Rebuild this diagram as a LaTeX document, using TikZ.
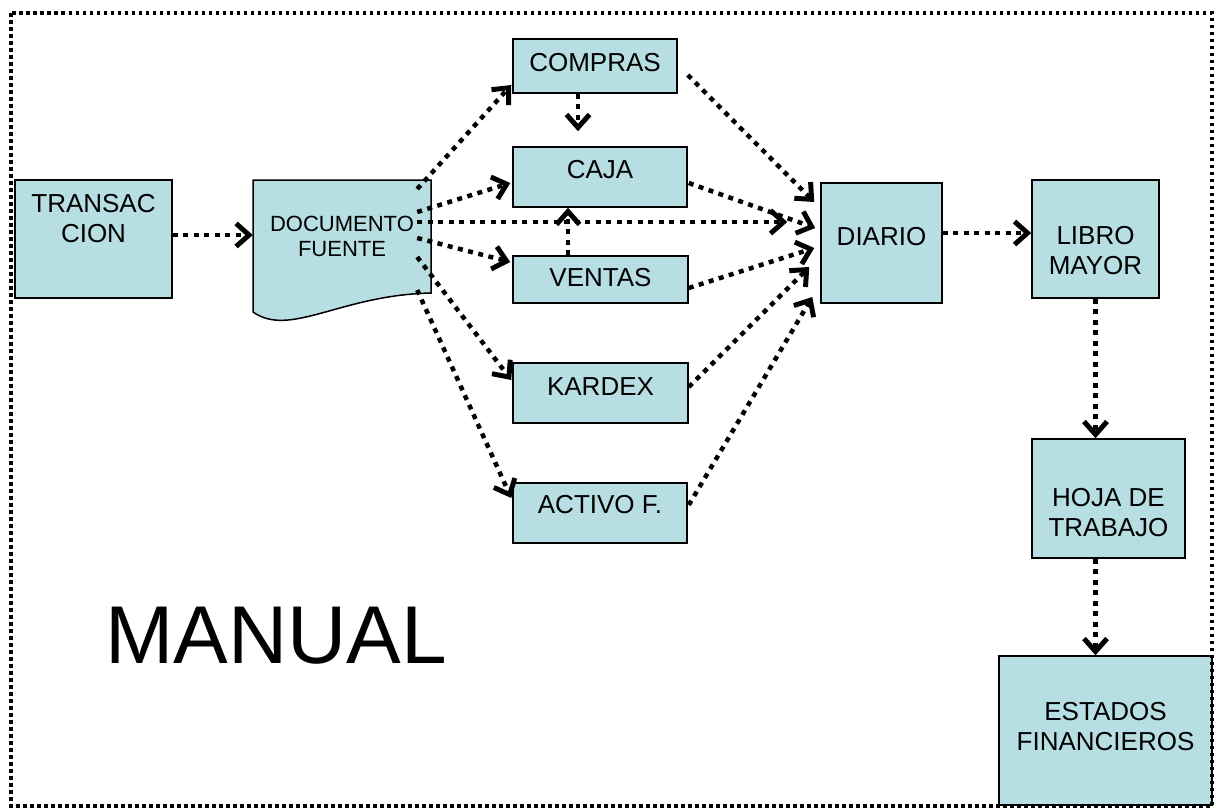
\documentclass[tikz,border=0pt]{standalone}
\usepackage{fontspec}
\setmainfont{Liberation Sans}
\usetikzlibrary{arrows.meta}
\definecolor{boxfill}{HTML}{B7DEE3}

\begin{document}
\begin{tikzpicture}[x=1pt, y=-1pt,
	box/.style={draw, line width=1.5pt, fill=boxfill, inner sep=0pt},
	boxtext/.style={align=center, inner sep=0pt, font=\fontsize{26}{30}\selectfont},
	flow/.style={line width=4.5pt, dash pattern=on 5pt off 5.5pt,
		-{Straight Barb[length=13pt, width=23pt, line width=0pt 1.1]}},
	outerframe/.style={line width=3.2pt, dash pattern=on 3.5pt off 3.5pt}]
	\useasboundingbox (0,0) rectangle (1214,809);

	% documento fuente (hoja con borde ondulado)
	\draw[line width=1.5pt, fill=boxfill] (253,312) -- (253,180) -- (431,180) -- (431,293)
		.. controls (340,295) and (290,338) .. (253,312) -- cycle;
	\node[align=center, inner sep=0pt, minimum width=178pt, minimum height=113pt,
		font=\fontsize{22}{25}\selectfont] (doc) at (342,236.5) {DOCUMENTO\\FUENTE};

	\node[box, minimum width=157pt, minimum height=118pt,
		label={[boxtext, yshift=20.5pt]center:{TRANSAC\\CION}}] (trans) at (93.5,239) {};
	\node[box, minimum width=164pt, minimum height=54pt,
		label={[boxtext, yshift=3pt]center:COMPRAS}] (compras) at (595,66) {};
	\node[box, minimum width=174pt, minimum height=60pt,
		label={[boxtext, yshift=7pt]center:CAJA}] (caja) at (600,177) {};
	\node[box, minimum width=175pt, minimum height=47pt,
		label={[boxtext, yshift=1.5pt]center:VENTAS}] (ventas) at (600.5,279.5) {};
	\node[box, minimum width=175pt, minimum height=60pt,
		label={[boxtext, yshift=6pt]center:KARDEX}] (kardex) at (600.5,393) {};
	\node[box, minimum width=174pt, minimum height=60pt,
		label={[boxtext, yshift=8pt]center:ACTIVO F.}] (activo) at (600,513) {};
	\node[box, minimum width=121pt, minimum height=120pt,
		label={[boxtext, yshift=6pt]center:DIARIO}] (diario) at (881.5,243) {};
	\node[box, minimum width=127pt, minimum height=118pt,
		label={[boxtext, yshift=-12pt]center:{LIBRO\\MAYOR}}] (libro) at (1095.5,239) {};
	\node[box, minimum width=153pt, minimum height=119pt,
		label={[boxtext, yshift=-14pt]center:{HOJA DE\\TRABAJO}}] (hoja) at (1108.5,498.5) {};
	\node[box, minimum width=213pt, minimum height=149pt,
		label={[boxtext, yshift=3.5pt]center:{ESTADOS\\FINANCIEROS}}] (estados) at (1105.5,730.5) {};

	\node[inner sep=0pt, font=\fontsize{82}{90}\selectfont] (manual) at (276,636) {MANUAL};

	% flujo
	\draw[flow] ([yshift=4pt]trans.east) -- ([yshift=4pt]trans.east -| doc.west);
	\draw[flow] ([shift={(-14,-47.5)}]doc.east) -- ([shift={(-1,19)}]compras.west);
	\draw[flow] ([shift={(-14,-24.5)}]doc.east) -- ([shift={(-2,6)}]caja.west);
	\draw[flow] ([shift={(-14,-14.5)}]doc.east) -- ([shift={(-33,-21)}]diario.west);
	\draw[flow] ([shift={(-14,1.5)}]doc.east) -- ([shift={(-2,-17.5)}]ventas.west);
	\draw[flow] ([shift={(-14,20.5)}]doc.east) -- ([shift={(-1,-13)}]kardex.west);
	\draw[flow] ([shift={(-14,53.5)}]doc.east) -- ([shift={(-1,-15)}]activo.west);

	\draw[flow] ([xshift=-17pt]compras.south) -- ([shift={(-22,-15)}]caja.north);
	\draw[flow] ([xshift=-32.5pt]ventas.north) -- ([xshift=-32pt]caja.south);

	\draw[flow] ([shift={(10,9)}]compras.east) -- ([shift={(-6,-41)}]diario.west);
	\draw[flow] ([shift={(1,6)}]caja.east) -- ([shift={(-5,-15)}]diario.west);
	\draw[flow] ([shift={(0,8.5)}]ventas.east) -- ([shift={(-6,5)}]diario.west);
	\draw[flow] ([shift={(0,-6)}]kardex.east) -- ([shift={(-11,24)}]diario.west);
	\draw[flow] ([shift={(1,-8)}]activo.east) -- ([shift={(-8,54)}]diario.west);

	\draw[flow] ([yshift=10pt]diario.east) -- ([yshift=10pt]diario.east -| libro.west);
	\draw[flow] (libro.south) -- (libro.south |- hoja.north);
	\draw[flow] (hoja.south -| libro.south) -- (libro.south |- estados.north);

	\draw[outerframe] (11,13) rectangle (1212,806);
\end{tikzpicture}
\end{document}
